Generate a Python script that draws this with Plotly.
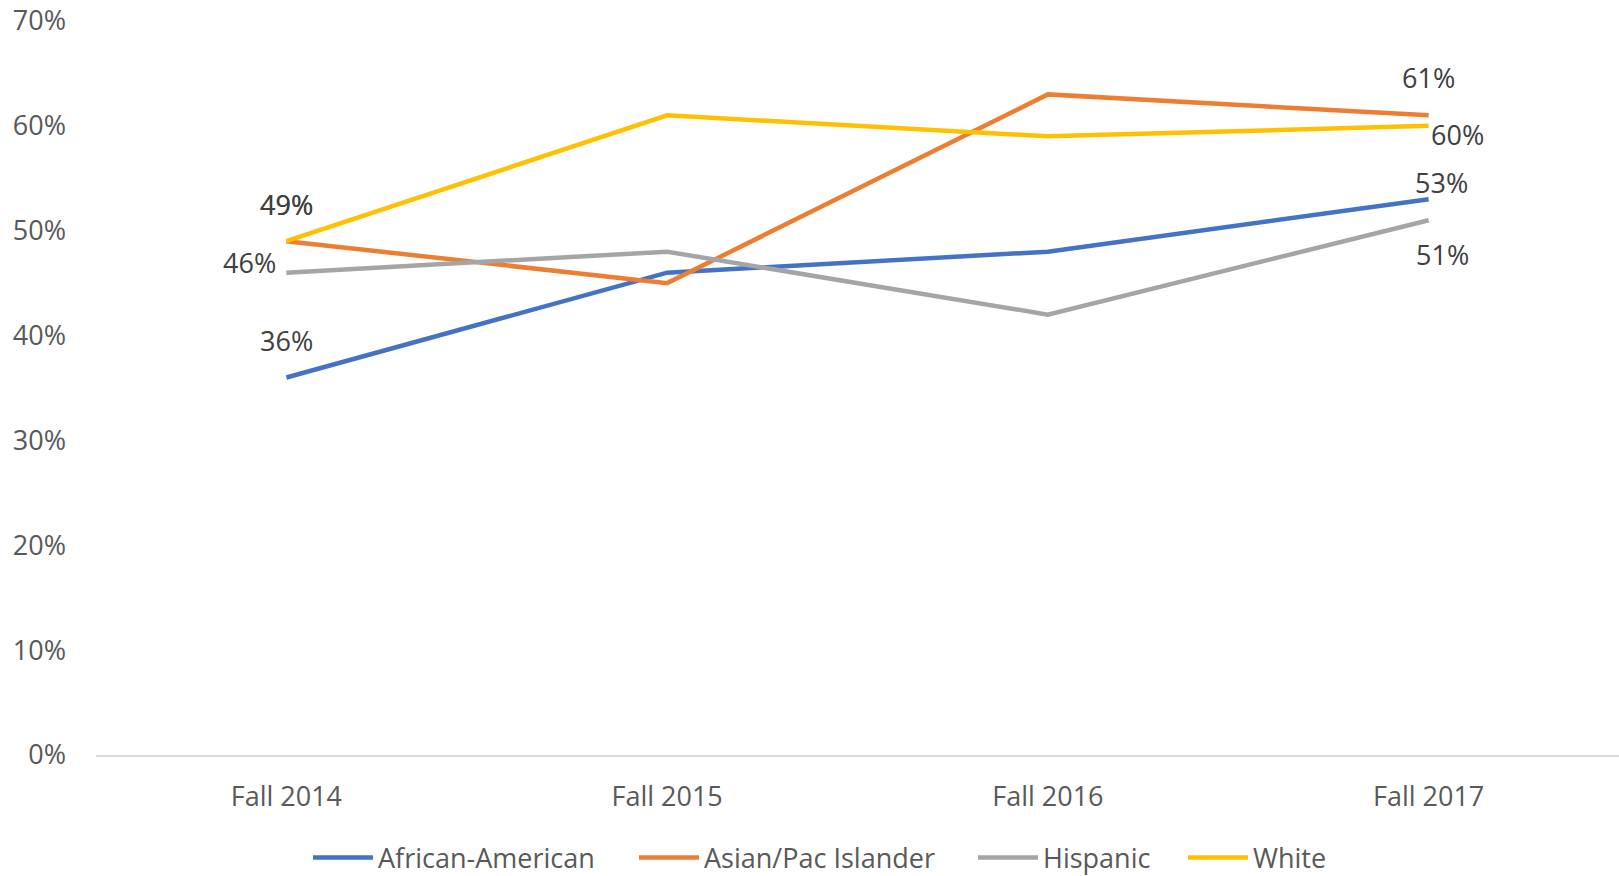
import plotly.graph_objects as go

categories = ["Fall 2014", "Fall 2015", "Fall 2016", "Fall 2017"]
series_names = ["African-American", "Asian/Pac Islander", "Hispanic", "White"]
african_american = [0.36, 0.46, 0.48, 0.53]
asian_pac = [0.49, 0.45, 0.63, 0.61]
hispanic = [0.46, 0.48, 0.42, 0.51]
white = [0.49, 0.61, 0.59, 0.60]
colors = ["#4472C4", "#ED7D31", "#A5A5A5", "#FFC000"]
y_ticks = [0, 0.1, 0.2, 0.3, 0.4, 0.5, 0.6, 0.7]

values = [african_american, asian_pac, hispanic, white]

FONT = "Open Sans"
FS = 27
W, H = 1619, 876
ITEMW = 60
legend_ids = ["legend", "legend2", "legend3", "legend4"]
legend_text_x = [378, 704, 1043, 1253]  # pixel x where each legend entry's text starts

fig = go.Figure()
for name, vals, col, lid in zip(series_names, values, colors, legend_ids):
    fig.add_trace(go.Scatter(
        x=categories, y=vals, name=name, mode="lines",
        line=dict(color=col, width=4.5),
        hoverinfo="skip", legend=lid,
    ))

# data labels: (series index, point index, xshift, yshift)
label_specs = [
    (1, 0, 0, 37),
    (3, 0, 0, 37),
    (2, 0, -37, 10),
    (0, 0, 0, 37),
    (1, 3, 0, 38),
    (3, 3, 29, -9),
    (0, 3, 13, 17),
    (2, 3, 14, -34),
]
for si, pi, xs, ys in label_specs:
    v = values[si][pi]
    fig.add_annotation(
        x=categories[pi], y=v, text=f"{round(v*100)}%", showarrow=False,
        xshift=xs, yshift=ys, font=dict(family=FONT, size=FS, color="#404040"),
    )

legend_layout = {}
for lid, tx in zip(legend_ids, legend_text_x):
    legend_layout[lid] = dict(
        orientation="h", xref="container", yref="container",
        x=(tx - 40 - (ITEMW - 30)) / W, xanchor="left", y=(H - 858) / H, yanchor="middle",
        font=dict(family=FONT, size=FS, color="#595959"),
        bgcolor="rgba(0,0,0,0)", borderwidth=0, itemwidth=ITEMW,
    )

fig.update_layout(
    width=W, height=H,
    margin=dict(l=96, r=0, t=21, b=121),
    paper_bgcolor="white", plot_bgcolor="white",
    font=dict(family=FONT, size=FS, color="#595959"),
    showlegend=True,
    xaxis=dict(
        type="category", range=[-0.5, 3.5], showgrid=False, zeroline=False,
        showline=True, linecolor="#D9D9D9", linewidth=1.5, ticks="",
        ticklabelstandoff=17, automargin=False,
        tickfont=dict(family=FONT, size=FS, color="#595959"),
    ),
    yaxis=dict(
        range=[0, 0.7], tickvals=y_ticks, tickformat=".0%", showgrid=False,
        zeroline=False, showline=False, ticks="", ticklabelstandoff=29,
        automargin=False,
        tickfont=dict(family=FONT, size=FS, color="#595959"),
    ),
    **legend_layout,
)

fig.write_html(
    "out.html",
    config={"displayModeBar": False},
    post_script="document.body.style.margin='0';document.body.style.overflow='hidden';",
)
